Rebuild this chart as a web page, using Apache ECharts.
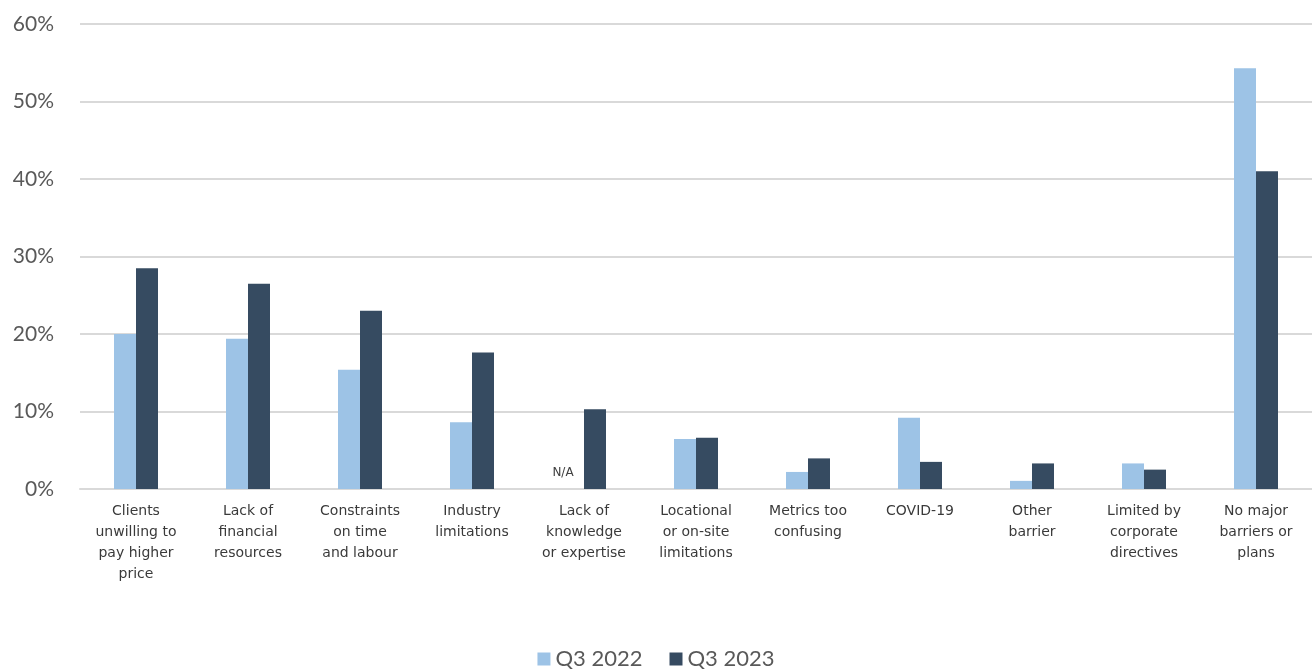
<!DOCTYPE html>
<html>
<head>
<meta charset="utf-8">
<script src="https://cdn.jsdelivr.net/npm/echarts@6/dist/echarts.min.js"></script>
<style>
html,body{margin:0;padding:0;background:#fff;}
#c{width:1312px;height:670px;}
</style>
</head>
<body>
<div id="c"></div>
<script>
const categories = [
  "Clients\nunwilling to\npay higher\nprice",
  "Lack of\nfinancial\nresources",
  "Constraints\non time\nand labour",
  "Industry\nlimitations",
  "Lack of\nknowledge\nor expertise",
  "Locational\nor on-site\nlimitations",
  "Metrics too\nconfusing",
  "COVID-19",
  "Other\nbarrier",
  "Limited by\ncorporate\ndirectives",
  "No major\nbarriers or\nplans"
];
const seriesNames = ["Q3 2022", "Q3 2023"];
const q2022 = [20.0, 19.4, 15.4, 8.6, null, 6.45, 2.2, 9.2, 1.05, 3.3, 54.3];
const q2023 = [28.5, 26.5, 23.0, 17.6, 10.3, 6.6, 3.95, 3.5, 3.3, 2.5, 41.0];
const yTicks = [0, 10, 20, 30, 40, 50, 60];

const chart = echarts.init(document.getElementById('c'));
const lightData = q2022.map(v => v === null
  ? {value: 0, label: {show: true, formatter: 'N/A', position: 'top', distance: 10,
      offset: [-10, 0], color: '#404040', fontSize: 12, fontFamily: 'DejaVu Sans'}}
  : v);

chart.setOption({
  animation: false,
  backgroundColor: '#ffffff',
  grid: {left: 80, right: 0, top: 24, bottom: 181, containLabel: false},
  legend: {
    data: seriesNames,
    top: 647,
    left: 'center',
    padding: 0,
    icon: 'rect',
    itemWidth: 13,
    itemHeight: 13,
    itemGap: 27,
    itemTextGap: 4,
    textStyle: {color: '#595959', fontSize: 22, lineHeight: 24, fontFamily: 'Lato'}
  },
  xAxis: {
    type: 'category',
    data: categories,
    axisTick: {show: false},
    axisLine: {show: true, lineStyle: {color: '#d9d9d9', width: 2}},
    axisLabel: {
      interval: 0,
      margin: 12,
      color: '#3a3a3a',
      fontSize: 14,
      fontFamily: 'DejaVu Sans',
      lineHeight: 21
    }
  },
  yAxis: {
    type: 'value',
    min: yTicks[0],
    max: yTicks[yTicks.length - 1],
    interval: 10,
    axisLine: {show: false},
    axisTick: {show: false},
    splitLine: {lineStyle: {color: '#d9d9d9', width: 2}},
    axisLabel: {
      formatter: '{value}%',
      color: '#595959',
      fontSize: 21,
      fontFamily: 'Lato',
      margin: 26
    }
  },
  series: [
    {
      name: seriesNames[0],
      type: 'bar',
      data: lightData,
      barWidth: 22,
      barGap: '0%',
      itemStyle: {color: '#9dc3e6'}
    },
    {
      name: seriesNames[1],
      type: 'bar',
      data: q2023,
      barWidth: 22,
      barGap: '0%',
      itemStyle: {color: '#364b61'}
    }
  ]
});
</script>
</body>
</html>
